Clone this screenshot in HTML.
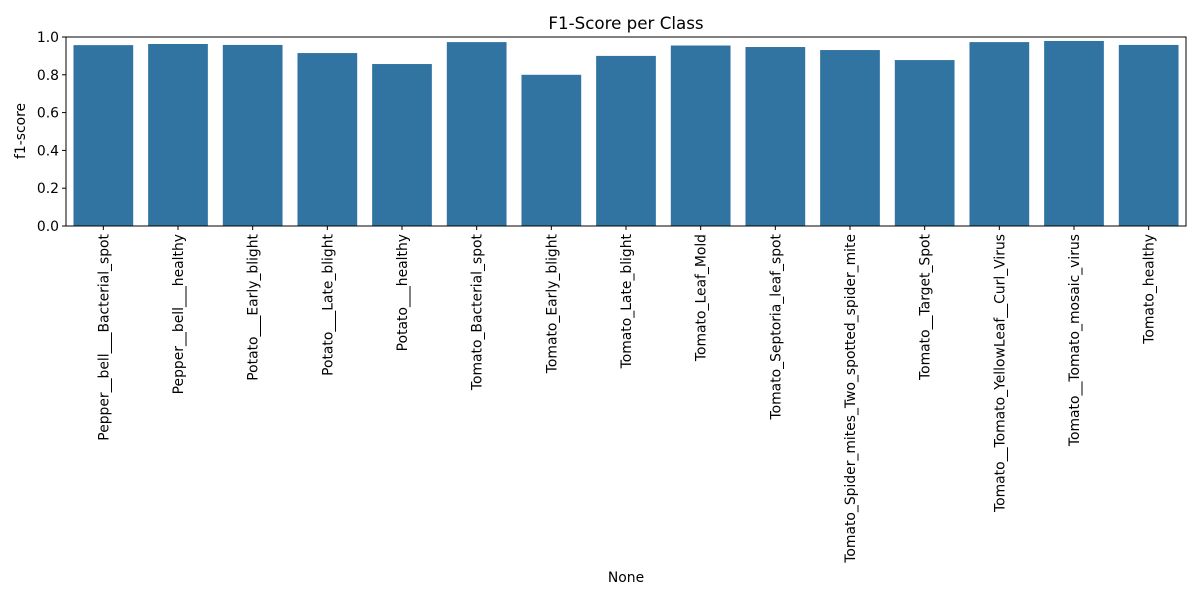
<!DOCTYPE html>
<html><head><meta charset="utf-8"><style>
body{margin:0;background:#fff;font-family:"Liberation Sans","DejaVu Sans",sans-serif;}
</style></head><body>
<svg id="chart" width="1200" height="600" xmlns="http://www.w3.org/2000/svg" font-family="'DejaVu Sans','Liberation Sans',sans-serif">
<rect width="1200" height="600" fill="#fff"/>
<text x="626" y="29" text-anchor="middle" font-size="16.7">F1-Score per Class</text>
<text transform="translate(25,131) rotate(-90)" text-anchor="middle" font-size="13.9">f1-score</text>
<text x="626" y="582" text-anchor="middle" font-size="13.9">None</text>
<g id="bars"></g><g id="xt"></g><g id="yt"></g>
<rect x="66" y="37" width="1120" height="189" fill="none" stroke="#000" stroke-width="1"/>
</svg>
<script>
const categories=["Pepper__bell___Bacterial_spot","Pepper__bell___healthy","Potato___Early_blight","Potato___Late_blight","Potato___healthy","Tomato_Bacterial_spot","Tomato_Early_blight","Tomato_Late_blight","Tomato_Leaf_Mold","Tomato_Septoria_leaf_spot","Tomato_Spider_mites_Two_spotted_spider_mite","Tomato__Target_Spot","Tomato__Tomato_YellowLeaf__Curl_Virus","Tomato__Tomato_mosaic_virus","Tomato_healthy"];
const f1Values=[0.957,0.963,0.958,0.915,0.857,0.973,0.800,0.900,0.955,0.947,0.931,0.878,0.973,0.979,0.958];
const yTicks=[0,0.2,0.4,0.6,0.8,1.0];
const yTickLabels=["0.0","0.2","0.4","0.6","0.8","1.0"];
const L=66,R=1186,T=37,B=226;
const y=v=>B-(v/1.0)*(B-T);
const step=(R-L)/categories.length;
const x=i=>L+step*i+step/2;
const ns="http://www.w3.org/2000/svg";
const bars=document.getElementById('bars'),xt=document.getElementById('xt'),yt=document.getElementById('yt');
categories.forEach((c,i)=>{
 const r=document.createElementNS(ns,'rect');
 
 
 const w=step*0.8;
 r.setAttribute('x',x(i)-w/2);r.setAttribute('width',w);
 r.setAttribute('y',y(f1Values[i]));r.setAttribute('height',B-y(f1Values[i]));
 r.setAttribute('fill','#3274a1');bars.appendChild(r);
 const tk=document.createElementNS(ns,'line');
 
 
 tk.setAttribute('x1',x(i));tk.setAttribute('x2',x(i));tk.setAttribute('y1',B);tk.setAttribute('y2',B+4);tk.setAttribute('stroke','#000');xt.appendChild(tk);
 const t=document.createElementNS(ns,'text');
 
 
 t.setAttribute('transform',`translate(${x(i)+5},${B+8}) rotate(-90)`);
 t.setAttribute('text-anchor','end');t.setAttribute('font-size','13.9');t.textContent=c;xt.appendChild(t);
});
yTicks.forEach((v,i)=>{
 const tk=document.createElementNS(ns,'line');
 
 
 tk.setAttribute('x1',L-4);tk.setAttribute('x2',L);tk.setAttribute('y1',y(v));tk.setAttribute('y2',y(v));tk.setAttribute('stroke','#000');yt.appendChild(tk);
 const t=document.createElementNS(ns,'text');
 
 
 t.setAttribute('x',L-7);t.setAttribute('y',y(v)+5);t.setAttribute('text-anchor','end');t.setAttribute('font-size','13.9');t.textContent=yTickLabels[i];yt.appendChild(t);
});
</script>
</body></html>
